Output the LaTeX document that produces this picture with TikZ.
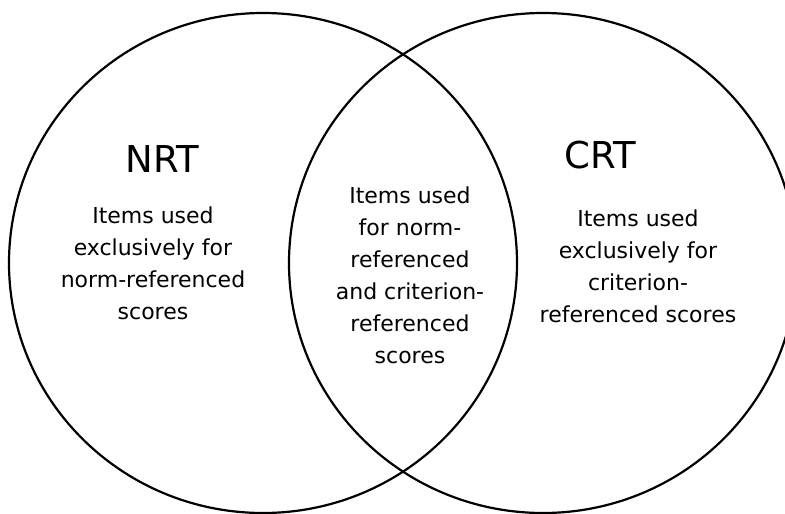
\documentclass[tikz,border=0pt]{standalone}
\usepackage{fontspec}
\setmainfont{DejaVu Sans}
\begin{document}
\begin{tikzpicture}[x=1pt,y=-1pt,
  ring/.style={draw=black,line width=2.2pt},
  title/.style={font=\fontsize{37}{40}\selectfont,anchor=base,inner sep=0pt},
  body/.style={font=\fontsize{22}{32}\selectfont,align=center,inner sep=0pt}]
\useasboundingbox (0,0) rectangle (785,514);
\begin{scope}
\clip (0,0) rectangle (785,514);
\draw[ring] (263,263) ellipse [x radius=254, y radius=250];
\draw[ring] (543,263) ellipse [x radius=254, y radius=250];
\end{scope}
\node[title] (nrt) at (162,172) {NRT};
\node[title] (crt) at (600,168) {CRT};
\node[body] (left) at (153,263) {Items used\\exclusively for\\norm-referenced\\scores};
\node[body] (mid) at (410,275) {Items used\\for norm-\\referenced\\and criterion-\\referenced\\scores};
\node[body] (right) at (638,266) {Items used\\exclusively for\\criterion-\\referenced scores};
\end{tikzpicture}
\end{document}
